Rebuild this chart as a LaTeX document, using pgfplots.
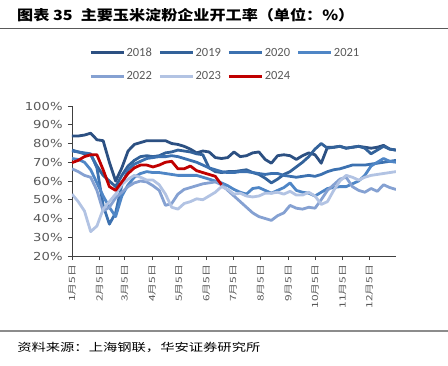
\documentclass[border=0pt]{standalone}
\usepackage{pgfplots}
\pgfplotsset{compat=1.18}
\usepackage{pgfplotstable}
\usepackage{fontspec}
\setmainfont{Carlito}
\newfontfamily\cjk{Noto Sans CJK SC}
\newfontfamily\dejavu{DejaVu Sans}
\definecolor{labgray}{HTML}{595959}
\definecolor{c18}{HTML}{2C5082}
\definecolor{c19}{HTML}{33629A}
\definecolor{c20}{HTML}{3C71B0}
\definecolor{c21}{HTML}{4F86C6}
\definecolor{c22}{HTML}{85A1D2}
\definecolor{c23}{HTML}{B2C3E3}
\definecolor{c24}{HTML}{C00000}

\pgfplotstableread{
d   a18   a19   a20   a21   a22   a23   a24
5   84    76.5  76    72    66.5  53    69.8
12  84    75.5  75.5  71.5  65    49    71
19  84.5  74.5  75    70    63    44    73
26  85.5  74    74.5  66    62    33    74
33  82    68    67    59    55    36    74
40  81.5  63    47    52    44    45    66
47  70    60    37    46    46    49    57
54  60    57    43    41    51    53    55
61  67    63    58    52    54    58    59.5
68  76    68    66    58    57    61    64
75  79.5  71    69    62    59    63    67
82  80.5  73    70.5  64    60    62    68.5
89  81.5  73.5  72    65    59.5  60.5  68.5
96  81.5  73    72.5  64.5  57.5  60.5  67.5
103 81.5  73.5  73    64.5  55    58    68.5
110 81.5  75    73    64    47    53    70
117 80    75.5  73.5  63.5  48    46    70.5
124 79.5  76.5  73    63    53    45    66.5
131 78.5  76    72    63    55.5  48    66.5
138 77    75.5  71    63    56.5  49    68
145 75    74.5  70    63    57.5  50.5  65.5
152 76    74    68.5  62    58.5  50    64.5
159 75.5  67    67    61    59    52    63.5
166 72.5  65    66    60    59.5  54    62.5
173 72    64.5  65    59    58    57    58
180 72.5  65    64.5  57.5  55    55.5  nan
187 75.5  65    64.5  55.5  52    53    nan
194 73    65.5  65    54    49    53.5  nan
201 73.5  66    65    53    46    52    nan
208 75    64.5  64.5  56    43    51.5  nan
215 75.5  63.5  64    56.5  41    52    nan
222 71.5  61.5  63.5  55    40    53.5  nan
229 69.5  59    64    53.5  39    53.5  nan
236 73.5  61    64    55    41.5  54    nan
243 74    63.5  63    56.5  43    53    nan
250 73.5  65    62.5  59    47    54.5  nan
257 71.5  67.5  62    55    45.5  52.5  nan
264 73.5  70    62.5  54    45    52.5  nan
271 75    73    63    53.5  46    54    nan
278 74    77    62.5  52    45.5  52    nan
285 69.5  80    63.5  54    50    47.5  nan
292 78    77.5  65    56    55    49    nan
299 78    78    66    56.5  58    55    nan
306 78.5  78.5  66.5  57    61    60    nan
313 77.5  77.5  67.5  57    62    63    nan
320 78    78    68.5  58.5  57    62    nan
327 78.5  78.5  68.5  60    55    60.5  nan
334 78    77.5  68.5  63    54    62    nan
341 77.5  74.5  69    68    56    63    nan
348 78    76.5  69.5  70    54.5  63.5  nan
355 79    78.5  70    72    58    64    nan
362 77    77    70.5  70.5  56.5  64.5  nan
369 76.5  76.5  71    70    55.5  65    nan
}\datatable

\begin{document}
\begin{tikzpicture}[x=1pt,y=1pt]
\path[use as bounding box] (0,0) rectangle (448,-365);
\node[anchor=west, inner sep=0pt, xscale=1.15] at (17,-15)
  {\cjk\bfseries\fontsize{14pt}{16pt}\selectfont 图表 35\hspace{0.5em}主要玉米淀粉企业开工率（单位：\%）};
\draw[black!65, line width=1pt] (0,-28) -- (448,-28);
\draw[black!45, line width=1.5pt] (0,-331) -- (448,-331);
\node[anchor=west, inner sep=0pt, xscale=1.3] at (17,-347)
  {\cjk\fontsize{11pt}{13pt}\selectfont 资料来源：上海钢联，华安证券研究所};
\begin{axis}[
  scale only axis, width=324pt, height=150pt,
  at={(72pt,-256pt)}, anchor=south west,
  xmin=5, xmax=369, ymin=20, ymax=100,
  axis x line*=bottom, axis y line*=left,
  axis line style={black!75, line width=0.9pt},
  tick align=outside, major tick length=4pt,
  tick style={black!75, line width=0.8pt},
  ytick={20,30,...,100},
  /pgf/number format/assume math mode=true,
  yticklabel={\pgfmathprintnumber{\tick}\%},
  yticklabel style={font=\dejavu\fontsize{11pt}{11pt}\selectfont, text=labgray, xscale=1.2, xshift=-1pt},
  xtick={5,36,64,95,125,156,186,217,248,278,309,339},
  xticklabels={1月5日,2月5日,3月5日,4月5日,5月5日,6月5日,7月5日,8月5日,9月5日,10月5日,11月5日,12月5日},
  xticklabel style={font=\cjk\fontsize{8.5pt}{8.5pt}\selectfont, text=labgray, rotate=90, anchor=east, xscale=1.4},
  every axis plot/.append style={line width=2.8pt, mark=none, line join=round},
  legend columns=4,
  legend cell align=left,
  legend image code/.code={\draw[#1] (0pt,0pt) -- (33pt,0pt);},
  legend style={at={(0.0525,1.40)}, anchor=north west, draw=none, fill=none,
    inner sep=0pt, font=\fontsize{12.5pt}{12.5pt}\selectfont, text=labgray,
    row sep=11pt, /tikz/every even column/.append style={column sep=5pt},
    nodes={inner sep=1.5pt}},
]
\addplot[c18] table[x=d,y=a18] {\datatable}; \addlegendentry{2018}
\addplot[c19] table[x=d,y=a19] {\datatable}; \addlegendentry{2019}
\addplot[c20] table[x=d,y=a20] {\datatable}; \addlegendentry{2020}
\addplot[c21] table[x=d,y=a21] {\datatable}; \addlegendentry{2021}
\addplot[c22] table[x=d,y=a22] {\datatable}; \addlegendentry{2022}
\addplot[c23] table[x=d,y=a23] {\datatable}; \addlegendentry{2023}
\addplot[c24] table[x=d,y=a24] {\datatable}; \addlegendentry{2024}
\end{axis}
\end{tikzpicture}
\end{document}
